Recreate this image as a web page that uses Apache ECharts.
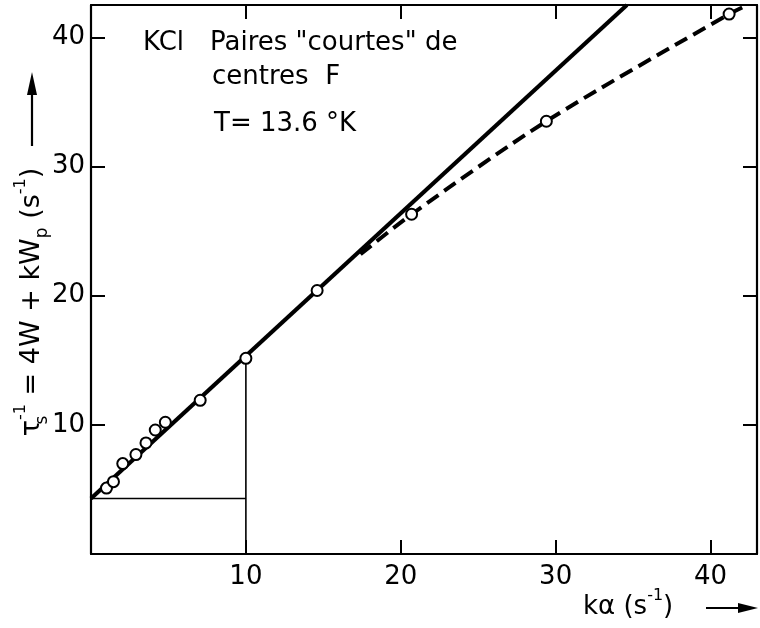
<!DOCTYPE html>
<html><head><meta charset="utf-8">
<script src="https://cdn.jsdelivr.net/npm/echarts@6/dist/echarts.min.js"></script>
<style>html,body{margin:0;padding:0;background:#fff}#c{width:760px;height:628px}</style>
</head><body><div id="c"></div>
<script>
// ---- data ----
const xTickLabels = [10, 20, 30, 40];
const yTickLabels = [10, 20, 30, 40];
const pointsX = [1.0, 1.45, 2.05, 2.9, 3.55, 4.15, 4.8, 7.05, 10.0, 14.6, 20.7, 29.4, 41.2];
const pointsY = [5.1, 5.6, 7.0, 7.7, 8.6, 9.6, 10.2, 11.9, 15.15, 20.4, 26.3, 33.5, 41.8];
const fitX = [0, 34.6];
const fitY = [4.3, 42.5];
const curveX = [17.4, 20.7, 29.4, 41.2, 42.4];
const curveY = [23.2, 26.3, 33.5, 41.8, 42.5];
const guideHX = [0, 10];
const guideHY = [4.3, 4.3];
const guideVX = [10, 10];
const guideVY = [0, 15.15];

const zip = (a, b) => a.map((v, i) => [v, b[i]]);
const FONT = 'DejaVu Sans';
const FS = 26;
const chart = echarts.init(document.getElementById('c'), null, {renderer: 'canvas'});

const axisCommon = {
  type: 'value', interval: 10,
  axisLine: {show: true, onZero: false, lineStyle: {color: '#000', width: 2.2}},
  axisTick: {show: true, inside: true, length: 14, lineStyle: {color: '#000', width: 2}},
  splitLine: {show: false}
};
const xLab = v => xTickLabels.includes(v) ? String(v) : '';
const yLab = v => yTickLabels.includes(v) ? String(v) : '';

chart.setOption({
  animation: false,
  backgroundColor: '#fff',
  grid: {left: 91, right: 2, top: 5, bottom: 74, containLabel: false},
  xAxis: [
    Object.assign({}, axisCommon, {min: 0, max: 43, position: 'bottom',
      axisLabel: {formatter: xLab, color: '#000', fontFamily: FONT, fontSize: FS, margin: 10}}),
    Object.assign({}, axisCommon, {min: 0, max: 43, position: 'top', axisLabel: {show: false}})
  ],
  yAxis: [
    Object.assign({}, axisCommon, {min: 0, max: 42.5, position: 'left',
      axisLabel: {formatter: yLab, color: '#000', fontFamily: FONT, fontSize: FS, margin: 6}}),
    Object.assign({}, axisCommon, {min: 0, max: 42.5, position: 'right', axisLabel: {show: false}})
  ],
  series: [
    {type: 'line', data: zip(guideHX, guideHY), symbol: 'none', lineStyle: {color: '#000', width: 1.6}, z: 2},
    {type: 'line', data: zip(guideVX, guideVY), symbol: 'none', lineStyle: {color: '#000', width: 1.6}, z: 2},
    {type: 'line', data: zip(fitX, fitY), symbol: 'none', lineStyle: {color: '#000', width: 4.2}, z: 3},
    {type: 'line', data: zip(curveX, curveY), symbol: 'none', smooth: 0.3,
      lineStyle: {color: '#000', width: 4, type: [14, 7]}, z: 3},
    {type: 'scatter', data: zip(pointsX, pointsY), symbol: 'circle', symbolSize: 11,
      itemStyle: {color: '#fff', borderColor: '#000', borderWidth: 2, opacity: 1}, z: 5}
  ],
  graphic: [
    {type: 'text', x: 143, y: 43, style: {text: 'KCl', font: FS + 'px "DejaVu Sans"', fill: '#000', verticalAlign: 'middle'}},
    {type: 'text', x: 210, y: 43, style: {text: 'Paires "courtes" de', font: FS + 'px "DejaVu Sans"', fill: '#000', verticalAlign: 'middle'}},
    {type: 'text', x: 212, y: 77, style: {text: 'centres  F', font: FS + 'px "DejaVu Sans"', fill: '#000', verticalAlign: 'middle'}},
    {type: 'text', x: 214, y: 124, style: {text: 'T= 13.6 °K', font: FS + 'px "DejaVu Sans"', fill: '#000', verticalAlign: 'middle'}},
    // y axis title (rotated)
    {type: 'text', x: 32, y: 302, rotation: Math.PI / 2,
      style: {text: 'τ{sub|s}{sup|-1} = 4W + kW{sub2|p} (s{sup|-1})', fill: '#000',
        fontFamily: FONT, fontSize: 27, lineHeight: 38, align: 'center', verticalAlign: 'middle',
        rich: {
          sub: {fontFamily: FONT, fontSize: 17, lineHeight: 38, verticalAlign: 'bottom', width: 0.1},
          sub2: {fontFamily: FONT, fontSize: 17, lineHeight: 38, verticalAlign: 'bottom'},
          sup: {fontFamily: FONT, fontSize: 16, lineHeight: 38, verticalAlign: 'top'}
        }}},
    {type: 'line', shape: {x1: 32, y1: 146, x2: 32, y2: 92}, style: {stroke: '#000', lineWidth: 2.2}},
    {type: 'polygon', shape: {points: [[32, 72], [27, 95], [37, 95]]}, style: {fill: '#000'}},
    // x axis title
    {type: 'text', x: 583, y: 607,
      style: {text: 'kα (s{sup|-1})', fill: '#000', fontFamily: FONT, fontSize: FS, lineHeight: 38,
        verticalAlign: 'middle',
        rich: {sup: {fontFamily: FONT, fontSize: 16, lineHeight: 38, verticalAlign: 'top'}}}},
    {type: 'line', shape: {x1: 706, y1: 608, x2: 742, y2: 608}, style: {stroke: '#000', lineWidth: 2.2}},
    {type: 'polygon', shape: {points: [[758, 608], [738, 603], [738, 613]]}, style: {fill: '#000'}}
  ]
});
</script>
</body></html>
